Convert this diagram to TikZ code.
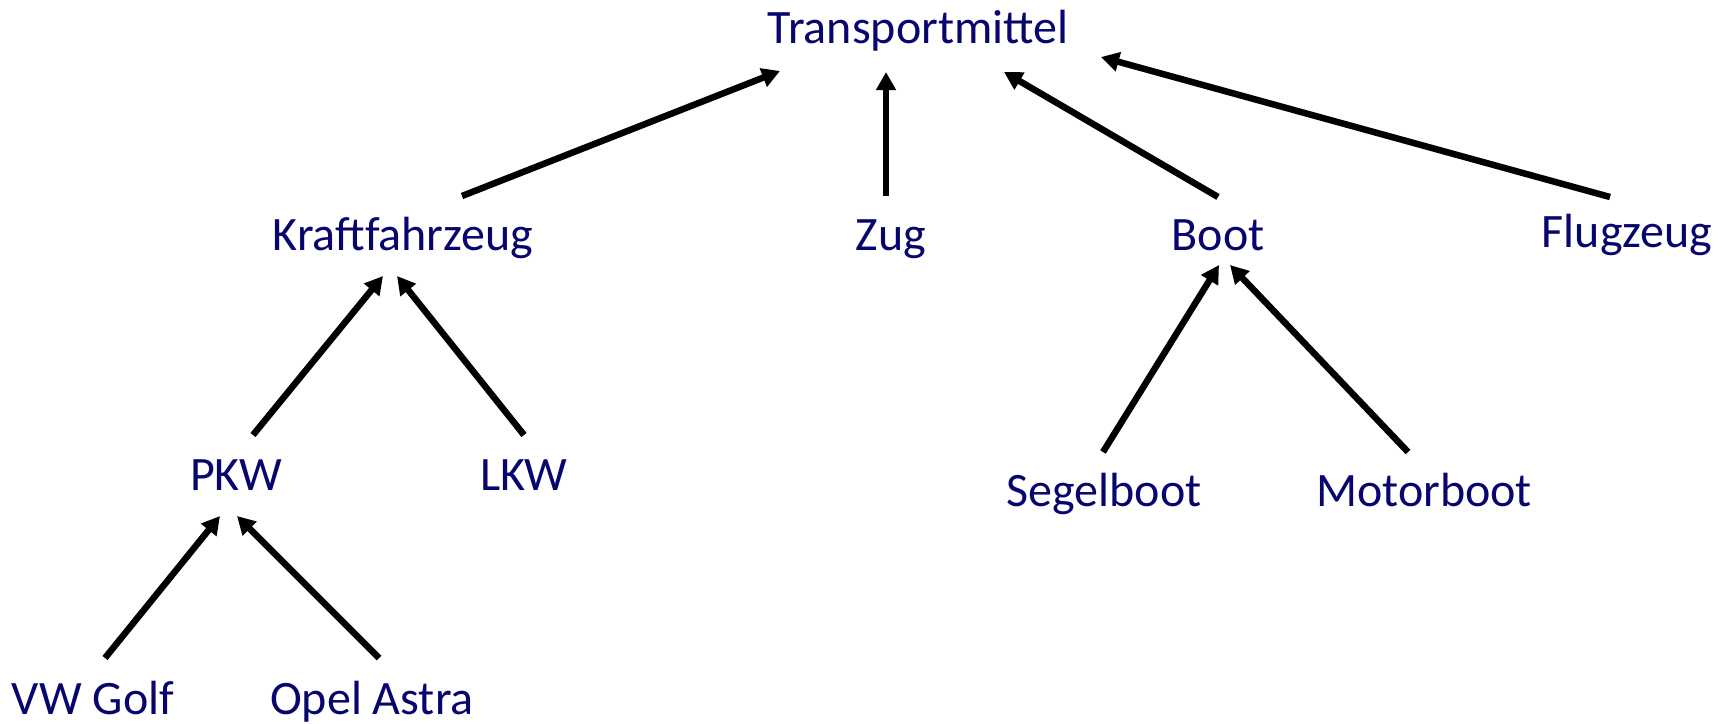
\documentclass[tikz,border=0pt]{standalone}
\usepackage{fontspec}
\setmainfont{Carlito}
\usetikzlibrary{arrows.meta}
\definecolor{navy}{RGB}{6,6,110}
\begin{document}
\begin{tikzpicture}[x=1pt,y=-1pt,
  lbl/.style={anchor=base,inner sep=0pt,text=navy,font=\fontsize{48}{56}\selectfont},
  arr/.style={line width=6.5pt,-{Triangle[length=18pt,width=19pt]}}]
\useasboundingbox (0,0) rectangle (1723,723);
% labels
\node[lbl] (T) at (918,43) {Transportmittel};
\node[lbl] (K) at (403,250) {Kraftfahrzeug};
\node[lbl] (Z) at (891,250) {Zug};
\node[lbl] (B) at (1218,250) {Boot};
\node[lbl] (F) at (1627,247) {Flugzeug};
\node[lbl] (P) at (236,490) {PKW};
\node[lbl] (L) at (524,490) {LKW};
\node[lbl] (S) at (1104,506) {Segelboot};
\node[lbl] (M) at (1424,506) {Motorboot};
\node[lbl] (V) at (93,714) {VW Golf};
\node[lbl] (O) at (372,714) {Opel Astra};
% connector ends
\coordinate (Kout) at (462,196);  \coordinate (TinK) at (780,71);
\coordinate (Zout) at (886,196);  \coordinate (TinZ) at (886,72);
\coordinate (Bout) at (1218,197); \coordinate (TinB) at (1004,72);
\coordinate (Fout) at (1610,197); \coordinate (TinF) at (1101,57);
\coordinate (Pout) at (253,435);  \coordinate (KinP) at (383,276);
\coordinate (Lout) at (524,435);  \coordinate (KinL) at (397,276);
\coordinate (Sout) at (1103,452); \coordinate (BinS) at (1219,265);
\coordinate (Mout) at (1408,452); \coordinate (BinM) at (1230,265);
\coordinate (Vout) at (105,658);  \coordinate (PinV) at (220,516);
\coordinate (Oout) at (379,658);  \coordinate (PinO) at (237,516);
% connectors
\draw[arr] (Kout) -- (TinK);
\draw[arr] (Zout) -- (TinZ);
\draw[arr] (Bout) -- (TinB);
\draw[arr] (Fout) -- (TinF);
\draw[arr] (Pout) -- (KinP);
\draw[arr] (Lout) -- (KinL);
\draw[arr] (Sout) -- (BinS);
\draw[arr] (Mout) -- (BinM);
\draw[arr] (Vout) -- (PinV);
\draw[arr] (Oout) -- (PinO);
\end{tikzpicture}
\end{document}
